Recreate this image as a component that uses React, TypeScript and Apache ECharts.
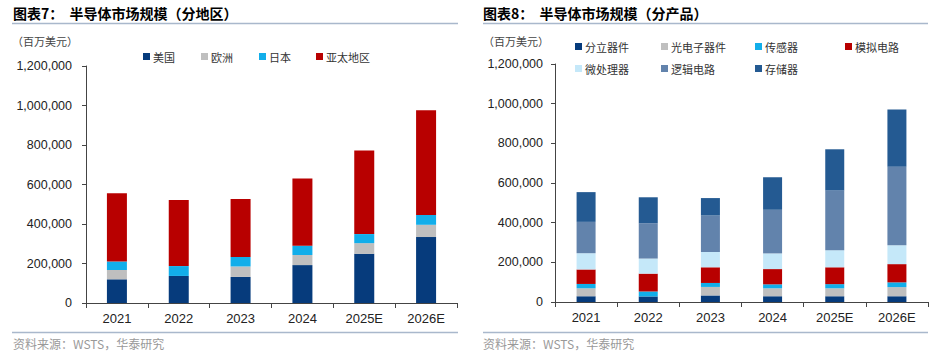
import React, { useEffect, useRef } from "react";
import * as echarts from "echarts";

const years = ["2021", "2022", "2023", "2024", "2025E", "2026E"];

// Left chart: by region (百万美元)
const regionNames = ["美国", "欧洲", "日本", "亚太地区"];
const americas = [120000, 137000, 132000, 192000, 249000, 334000];
const europe = [47000, 0, 53000, 51000, 54000, 62000];
const japan = [43000, 50000, 48000, 47000, 46000, 50000];
const apac = [346000, 334000, 294000, 340000, 423000, 530000];

// Right chart: by product (百万美元)
const productNames = ["分立器件", "光电子器件", "传感器", "模拟电路", "微处理器", "逻辑电路", "存储器"];
const discrete = [29000, 28000, 33000, 29000, 29000, 29000];
const opto = [40000, 0, 43000, 40000, 40000, 46000];
const sensors = [22000, 25000, 20000, 20000, 21000, 24000];
const analog = [73000, 90000, 79000, 77000, 85000, 92000];
const micro = [82000, 76000, 77000, 79000, 86000, 95000];
const logic = [158000, 178000, 184000, 220000, 302000, 396000];
const memory = [150000, 131000, 88000, 164000, 207000, 289000];

const yTicks = [0, 200000, 400000, 600000, 800000, 1000000, 1200000];

const regionColors = ["#063B7C", "#BFBFBF", "#12AEEA", "#B80000"];
const productColors = ["#063B7C", "#BFBFBF", "#12AEEA", "#B80000", "#C5E8F9", "#6283AC", "#245A92"];

const NUM_FONT = "'Liberation Sans', Arial, sans-serif";
const CJK_FONT = "'Noto Sans CJK SC', sans-serif";

function fmt(v: number) {
  return v.toLocaleString("en-US");
}

export default function App() {
  const ref = useRef<HTMLDivElement>(null);
  useEffect(() => {
    if (!ref.current) return;
    const chart = echarts.init(ref.current, null, { renderer: "svg" });

    const yAxisBase = (gridIndex: number, margin: number) => ({
      type: "value" as const,
      gridIndex,
      min: yTicks[0],
      max: yTicks[yTicks.length - 1],
      interval: 200000,
      axisLine: { show: true, lineStyle: { color: "#444", width: 1 } },
      axisTick: { show: true, length: 4, lineStyle: { color: "#444" } },
      splitLine: { show: false },
      axisLabel: {
        formatter: (v: number) => fmt(v),
        color: "#222",
        fontSize: 12.5,
        fontFamily: NUM_FONT,
        margin,
      },
    });
    const xAxisBase = (gridIndex: number) => ({
      type: "category" as const,
      gridIndex,
      data: years,
      axisLine: { show: true, lineStyle: { color: "#444", width: 1 } },
      axisTick: { show: true, length: 5, lineStyle: { color: "#444" } },
      axisLabel: { color: "#222", fontSize: 13, fontFamily: NUM_FONT, margin: 9 },
    });

    const regionData = [americas, europe, japan, apac];
    const productData = [discrete, opto, sensors, analog, micro, logic, memory];

    const series: any[] = [];
    regionNames.forEach((n, i) => {
      series.push({
        name: n,
        type: "bar",
        stack: "region",
        xAxisIndex: 0,
        yAxisIndex: 0,
        barWidth: 20,
        data: regionData[i],
        itemStyle: { color: regionColors[i] },
      });
    });
    productNames.forEach((n, i) => {
      series.push({
        name: n,
        type: "bar",
        stack: "product",
        xAxisIndex: 1,
        yAxisIndex: 1,
        barWidth: 19,
        data: productData[i],
        itemStyle: { color: productColors[i] },
      });
    });

    const legendItem = (name: string, left: number, top: number) => ({
      data: [name],
      left,
      top,
      icon: "rect",
      itemWidth: 7,
      itemHeight: 7,
      itemGap: 4,
      padding: 0,
      selectedMode: false,
      textStyle: { fontSize: 11, color: "#333", fontFamily: CJK_FONT, padding: [0, 0, 0, -2] },
    });

    const legends = [
      legendItem("美国", 143, 51),
      legendItem("欧洲", 201, 51),
      legendItem("日本", 259, 51),
      legendItem("亚太地区", 316, 51),
      legendItem("分立器件", 575, 41),
      legendItem("光电子器件", 661, 41),
      legendItem("传感器", 755, 41),
      legendItem("模拟电路", 845, 41),
      legendItem("微处理器", 575, 63),
      legendItem("逻辑电路", 661, 63),
      legendItem("存储器", 755, 63),
    ];

    const title = (text: string, x: number) => ({
      type: "text",
      x,
      y: 6,
      style: { text, fontSize: 14, fontWeight: "bold", fill: "#000", fontFamily: CJK_FONT },
    });
    const hline = (x1: number, x2: number, y: number) => ({
      type: "line",
      shape: { x1, y1: y, x2, y2: y },
      style: { stroke: "#A9B8CC", lineWidth: 1.5 },
    });
    const small = (text: string, x: number, y: number, color: string, size: number) => ({
      type: "text",
      x,
      y,
      style: { text, fontSize: size, fill: color, fontFamily: CJK_FONT },
    });

    chart.setOption({
      animation: false,
      backgroundColor: "#fff",
      grid: [
        { left: 86, top: 66, width: 371, height: 237, containLabel: false },
        { left: 555, top: 64, width: 373, height: 238, containLabel: false },
      ],
      xAxis: [xAxisBase(0), xAxisBase(1)],
      yAxis: [yAxisBase(0, 14), yAxisBase(1, 12)],
      legend: legends,
      series,
      graphic: [
        title("图表7：  半导体市场规模（分地区）", 13),
        title("图表8：  半导体市场规模（分产品）", 483),
        hline(12, 458, 23.5),
        hline(483, 928, 23.5),
        small("（百万美元）", 12, 35, "#444", 11),
        small("（百万美元）", 483, 35, "#444", 11),
        hline(12, 458, 332.5),
        hline(483, 928, 332.5),
        small("资料来源：WSTS，华泰研究", 13, 337, "#999", 12),
        small("资料来源：WSTS，华泰研究", 483, 337, "#999", 12),
      ],
    });

    return () => chart.dispose();
  }, []);

  return (
    <div
      ref={ref}
      style={{ position: "absolute", left: 0, top: 0, width: 946, height: 356, background: "#fff" }}
    />
  );
}
